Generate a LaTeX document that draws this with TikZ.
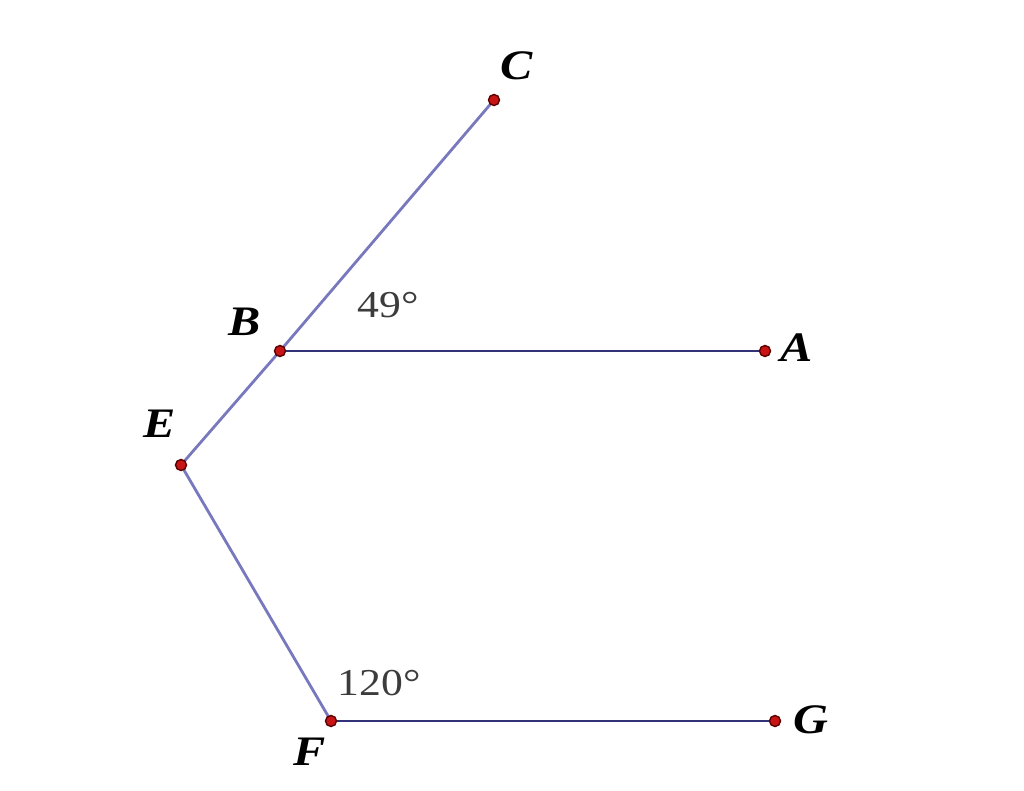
\documentclass[tikz,border=0pt]{standalone}
\usepackage{fontspec}
\setmainfont{Liberation Serif}
\begin{document}
\begin{tikzpicture}[x=1pt,y=-1pt,
  pt/.style={circle,fill={rgb,255:red,200;green,20;blue,20},draw={rgb,255:red,90;green,0;blue,0},line width=1.4pt,inner sep=0pt,minimum size=11pt},
  lab/.style={font=\fontsize{42}{44}\selectfont\bfseries\itshape,inner sep=0pt,xscale=1.15},
  ang/.style={font=\fontsize{38}{40}\selectfont,text={rgb,255:red,60;green,60;blue,60},inner sep=0pt,xscale=1.15},
  light/.style={draw={rgb,255:red,120;green,120;blue,190},line width=2.8pt},
  dark/.style={draw={rgb,255:red,50;green,50;blue,120},line width=2.8pt}]
\useasboundingbox (0,0) rectangle (1024,791);
\coordinate (C) at (494,100);
\coordinate (B) at (280,351);
\coordinate (A) at (765,351);
\coordinate (E) at (181,465);
\coordinate (F) at (331,721);
\coordinate (G) at (775,721);
\draw[light] (C) -- (B);
\draw[light] (B) -- (E);
\draw[light] (E) -- (F);
\draw[dark] (B) -- (A);
\draw[dark] (F) -- (G);
\foreach \p in {C,B,A,E,F,G} \node[pt] (p\p) at (\p) {};
\node[lab] (lC) at (517,66) {C};
\node[lab] (lB) at (245,322) {B};
\node[lab] (lA) at (797,348) {A};
\node[lab] (lE) at (160,424) {E};
\node[lab] (lF) at (310,752) {F};
\node[lab] (lG) at (811,720) {G};
\node[ang] (a49) at (388,305) {49°};
\node[ang] (a120) at (379,683) {120°};
\end{tikzpicture}
\end{document}
